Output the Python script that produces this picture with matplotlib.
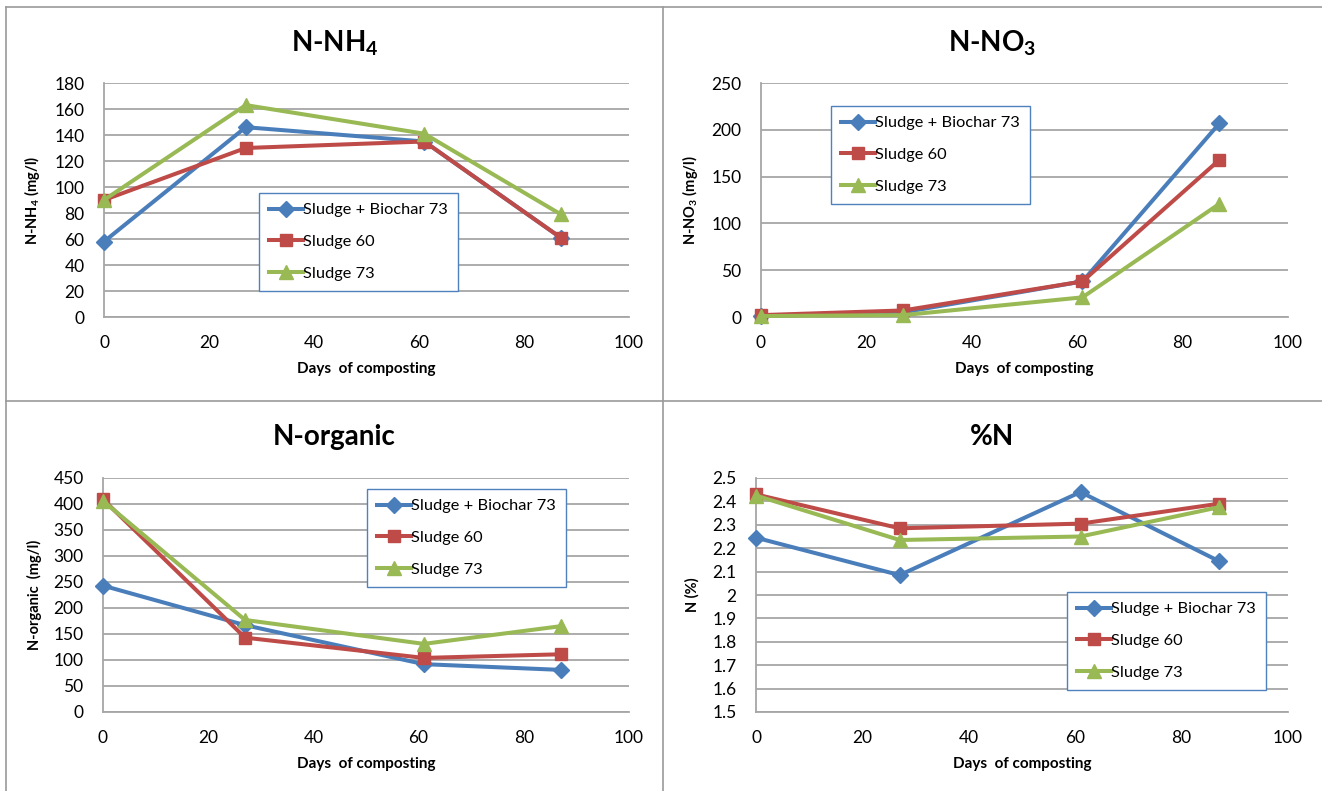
import matplotlib
matplotlib.use("Agg")
import matplotlib.pyplot as plt
from matplotlib.lines import Line2D
from matplotlib.ticker import FuncFormatter, MultipleLocator

# ---------------- data ----------------
days = [0, 27, 61, 87]
series_labels = ["Sludge + Biochar 73", "Sludge 60", "Sludge 73"]

nh4_biochar = [58, 146, 135, 61]
nh4_s60 = [90, 130, 135, 61]
nh4_s73 = [90, 163, 141, 79]

no3_biochar = [1, 5, 38, 207]
no3_s60 = [2, 7, 38, 168]
no3_s73 = [1, 2, 21, 121]

org_biochar = [243, 167, 92, 81]
org_s60 = [409, 143, 104, 111]
org_s73 = [406, 177, 131, 165]

pn_biochar = [2.245, 2.085, 2.44, 2.145]
pn_s60 = [2.43, 2.285, 2.305, 2.39]
pn_s73 = [2.425, 2.235, 2.25, 2.375]

titles = [r"N-NH$_\mathbf{4}$", r"N-NO$_\mathbf{3}$", "N-organic", "%N"]
ylabels = [r"N-NH$_\mathbf{4}$ (mg/l)", r"N-NO$_\mathbf{3}$ (mg/l)", "N-organic  (mg/l)", "N (%)"]
xlabel = "Days  of composting"

# ---------------- style ----------------
FONT = "Lato"
plt.rcParams["font.family"] = [FONT, "DejaVu Sans"]
plt.rcParams["mathtext.fontset"] = "custom"
plt.rcParams["mathtext.rm"] = FONT
plt.rcParams["mathtext.bf"] = FONT + ":bold"

W, H = 1322, 791
fig = plt.figure(figsize=(W / 100, H / 100), dpi=100)
fig.patch.set_facecolor("white")

colors = ["#4A7EBB", "#BE4B48", "#98B954"]
markers = ["D", "s", "^"]
msizes = [8, 8.5, 9.5]
GRID = "#A6A6A6"


def fx(px):
    return px / W


def fy(py):
    return 1 - py / H


# axes pixel boxes: left, top, right, bottom
boxes = [(104, 83, 629, 317), (761, 83, 1288, 317),
         (103, 478, 629, 712), (756, 478, 1288, 712)]
data = [
    [nh4_biochar, nh4_s60, nh4_s73],
    [no3_biochar, no3_s60, no3_s73],
    [org_biochar, org_s60, org_s73],
    [pn_biochar, pn_s60, pn_s73],
]
ylims = [(0, 180, 20), (0, 250, 50), (0, 450, 50), (1.5, 2.5, 0.1)]
title_pos = [(335, 43), (992, 43), (334, 437), (992, 437)]
ylabel_x = [42, 700, 42, 700]
legend_pos = [(259, 193), (831, 106), (367, 489), (1067, 592)]

for i, (l, t, r, b) in enumerate(boxes):
    ax = fig.add_axes([fx(l), fy(b), (r - l) / W, (b - t) / H])
    for k in range(3):
        ax.plot(days, data[i][k], color=colors[k], lw=2.9, marker=markers[k],
                ms=msizes[k], label=series_labels[k], clip_on=False, zorder=3 + k)
    lo, hi, step = ylims[i]
    ax.set_ylim(lo, hi)
    ax.yaxis.set_major_locator(MultipleLocator(step))
    ax.yaxis.set_major_formatter(FuncFormatter(lambda v, p: f"{round(v, 2):g}"))
    ax.set_xlim(0, 100)
    ax.xaxis.set_major_locator(MultipleLocator(20))
    ax.grid(axis="y", color=GRID, lw=1.3)
    ax.set_axisbelow(True)
    for s in ["top", "right"]:
        ax.spines[s].set_visible(False)
    for s in ["left", "bottom"]:
        ax.spines[s].set_color(GRID)
        ax.spines[s].set_linewidth(1.3)
    ax.tick_params(length=0, labelsize=12.5, colors="black")
    ax.tick_params(axis="y", pad=14)
    ax.tick_params(axis="x", pad=13)
    ax.set_xlabel(xlabel, fontsize=11, fontweight="bold", labelpad=8)
    ax.set_ylabel(ylabels[i], fontsize=10.5, fontweight="bold")
    ax.yaxis.set_label_coords(fx(ylabel_x[i]), fy((t + b) / 2), transform=fig.transFigure)
    fig.text(fx(title_pos[i][0]), fy(title_pos[i][1]), titles[i], fontsize=20,
             fontweight="bold", ha="center", va="center")
    leg = ax.legend(loc="upper left",
                    bbox_to_anchor=(fx(legend_pos[i][0]), fy(legend_pos[i][1])),
                    bbox_transform=fig.transFigure, borderaxespad=0,
                    fancybox=False, framealpha=1, edgecolor="#4F81BD",
                    fontsize=11.8, handlelength=2.1, handletextpad=0.0,
                    labelspacing=1.05, borderpad=0.6, numpoints=1)
    leg.get_frame().set_linewidth(1.0)
    leg.set_zorder(10)

# panel borders
BORDER = "#9A9A9A"
lines = [
    ((6, 6), (7, 791)),
    ((6, 1322), (7, 7)),
    ((663, 663), (7, 791)),
    ((6, 1322), (401, 401)),
]
for xs, ys in lines:
    fig.add_artist(Line2D([fx(x) for x in xs], [fy(y) for y in ys],
                          color=BORDER, lw=1.2, transform=fig.transFigure))

fig.savefig("out.png", dpi=100, facecolor="white")
